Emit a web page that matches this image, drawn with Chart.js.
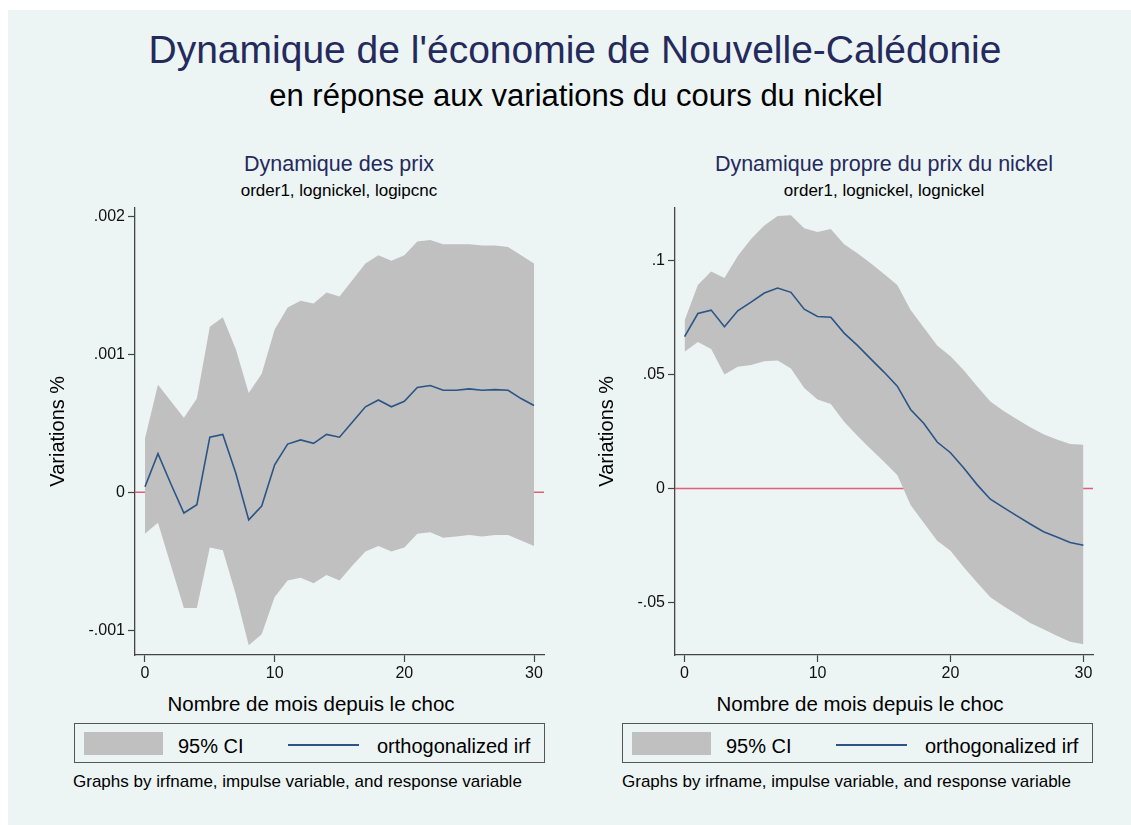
<!DOCTYPE html>
<html>
<head>
<meta charset="utf-8">
<script src="https://cdn.jsdelivr.net/npm/chart.js@4.4.1/dist/chart.umd.min.js"></script>
<style>
  body { margin: 0; background: #fff; width: 1131px; height: 825px; overflow: hidden; font-family: 'Liberation Sans', Arial, sans-serif; }
  #panel { position: absolute; left: 8px; top: 10px; width: 1123px; height: 815px; background: #edf4f4; }
  .t { position: absolute; white-space: nowrap; line-height: 1; }
  .c { transform: translateX(-50%); }
  canvas { position: absolute; }
  .lgd { position: absolute; top: 723px; width: 469px; height: 38px; border: 1.5px solid #555; }
  .sw { position: absolute; left: 9px; top: 8px; width: 79px; height: 23px; background: #c0c0c0; }
  .ln { position: absolute; left: 213px; top: 20px; width: 71px; height: 2px; background: #2a5586; }
</style>
</head>
<body>
<div id="panel"></div>

<div class="t c" style="left:575px; top:30px; font-size:39px; color:#242a5c;">Dynamique de l'économie de Nouvelle-Calédonie</div>
<div class="t c" style="left:576px; top:80px; font-size:31px; color:#000;">en réponse aux variations du cours du nickel</div>

<div class="t c" style="left:339px; top:154px; font-size:21.5px; color:#242a5c;">Dynamique des prix</div>
<div class="t c" style="left:339px; top:182px; font-size:17px; color:#000;">order1, lognickel, logipcnc</div>
<div class="t c" style="left:884px; top:154px; font-size:21.5px; color:#242a5c;">Dynamique propre du prix du nickel</div>
<div class="t c" style="left:884px; top:182px; font-size:17px; color:#000;">order1, lognickel, lognickel</div>

<canvas id="prix" width="540" height="490" style="left:20px; top:195px;"></canvas>
<canvas id="nickel" width="550" height="490" style="left:560px; top:195px;"></canvas>

<div class="t c" style="left:311px; top:694px; font-size:20.5px; color:#000;">Nombre de mois depuis le choc</div>
<div class="t c" style="left:860px; top:694px; font-size:20.5px; color:#000;">Nombre de mois depuis le choc</div>

<div class="lgd" style="left:74px;">
  <div class="sw"></div>
  <div class="t" style="left:103px; top:12px; font-size:20px;">95% CI</div>
  <div class="ln"></div>
  <div class="t" style="left:302px; top:12px; font-size:20px;">orthogonalized irf</div>
</div>
<div class="lgd" style="left:622px;">
  <div class="sw"></div>
  <div class="t" style="left:103px; top:12px; font-size:20px;">95% CI</div>
  <div class="ln"></div>
  <div class="t" style="left:302px; top:12px; font-size:20px;">orthogonalized irf</div>
</div>

<div class="t" style="left:73px; top:773px; font-size:17px; color:#000;">Graphs by irfname, impulse variable, and response variable</div>
<div class="t" style="left:622px; top:773px; font-size:17px; color:#000;">Graphs by irfname, impulse variable, and response variable</div>

<script>
// mois depuis le choc
const MONTHS = [0,1,2,3,4,5,6,7,8,9,10,11,12,13,14,15,16,17,18,19,20,21,22,23,24,25,26,27,28,29,30];
const X_TICKS = [0, 10, 20, 30];

// Dynamique des prix (order1, lognickel, logipcnc)
const PRIX_IRF = [0.00004, 0.00028, 0.00006, -0.00015, -0.00009, 0.00040, 0.00042, 0.00014, -0.00020, -0.00010,
  0.00020, 0.00035, 0.00038, 0.000355, 0.00042, 0.00040, 0.00051, 0.00062, 0.00067, 0.00062,
  0.00066, 0.00076, 0.000775, 0.00074, 0.00074, 0.00075, 0.00074, 0.000745, 0.00074, 0.00068, 0.00063];
const PRIX_UPPER = [0.00039, 0.00078, 0.00066, 0.00054, 0.00068, 0.00120, 0.00127, 0.00104, 0.00072, 0.00086,
  0.00118, 0.00134, 0.00139, 0.00137, 0.00145, 0.00142, 0.00154, 0.00166, 0.00172, 0.00168,
  0.00172, 0.00182, 0.00183, 0.00180, 0.00180, 0.00180, 0.00179, 0.00179, 0.00178, 0.00172, 0.00166];
const PRIX_LOWER = [-0.00030, -0.00022, -0.00053, -0.00084, -0.00084, -0.00040, -0.00042, -0.00074, -0.00111, -0.00103,
  -0.00076, -0.00064, -0.00062, -0.00066, -0.00060, -0.00064, -0.00053, -0.00043, -0.00039, -0.00043,
  -0.00040, -0.00030, -0.00029, -0.00033, -0.00032, -0.00031, -0.00032, -0.00031, -0.00031, -0.00035, -0.00039];
const PRIX_TICKS = [-0.001, 0, 0.001, 0.002];
const PRIX_TICK_LABELS = ['-.001', '0', '.001', '.002'];

// Dynamique propre du prix du nickel (order1, lognickel, lognickel)
const NICKEL_IRF = [0.0667, 0.0768, 0.0783, 0.0710, 0.0780, 0.0818, 0.0858, 0.0880, 0.0861, 0.0787,
  0.0755, 0.0752, 0.0682, 0.0628, 0.0569, 0.0511, 0.0449, 0.0347, 0.0285, 0.0204,
  0.0157, 0.0090, 0.0017, -0.0047, -0.0084, -0.0120, -0.0156, -0.0190, -0.0213, -0.0237, -0.0249];
const NICKEL_UPPER = [0.0737, 0.0893, 0.0952, 0.0924, 0.1020, 0.1095, 0.1154, 0.1196, 0.1199, 0.1142,
  0.1126, 0.1139, 0.1072, 0.1033, 0.0989, 0.0942, 0.0893, 0.0783, 0.0706, 0.0628,
  0.0581, 0.0519, 0.0449, 0.0382, 0.0340, 0.0304, 0.0269, 0.0238, 0.0215, 0.0195, 0.0192];
const NICKEL_LOWER = [0.0600, 0.0643, 0.0612, 0.0500, 0.0534, 0.0542, 0.0558, 0.0562, 0.0527, 0.0441,
  0.0391, 0.0371, 0.0293, 0.0231, 0.0173, 0.0117, 0.0059, -0.0073, -0.0151, -0.0229,
  -0.0273, -0.0346, -0.0413, -0.0478, -0.0517, -0.0553, -0.0590, -0.0618, -0.0646, -0.0673, -0.0684];
const NICKEL_TICKS = [-0.05, 0, 0.05, 0.1];
const NICKEL_TICK_LABELS = ['-.05', '0', '.05', '.1'];

const FONT = "'Liberation Sans', Arial, sans-serif";
const AXIS = '#444';

function pts(ys) {
  return MONTHS.map((m, i) => ({x: m, y: ys[i]}));
}

function irfChart(id, irf, upper, lower, yTicks, yLabels, yMin, yMax, xMin, xMax, titlePad, rightPad) {
  let ctx = document.getElementById(id).getContext('2d');
  return new Chart(ctx, {
    type: 'line',
    data: {
      datasets: [
        { label: 'orthogonalized irf', data: pts(irf), borderColor: '#2a5586', borderWidth: 1.6,
          pointRadius: 0, fill: false, tension: 0 },
        { label: '95% CI', data: pts(upper), borderWidth: 0, borderColor: 'rgba(0,0,0,0)',
          backgroundColor: '#c0c0c0', pointRadius: 0, fill: '+1', tension: 0 },
        { label: 'lower', data: pts(lower), borderWidth: 0, borderColor: 'rgba(0,0,0,0)',
          pointRadius: 0, fill: false, tension: 0 },
        { label: 'zero', data: [{x: xMin, y: 0}, {x: xMax, y: 0}], borderColor: '#e0607a', borderWidth: 1.6,
          pointRadius: 0, fill: false }
      ]
    },
    options: {
      responsive: false,
      animation: false,
      layout: { padding: { top: 9, right: rightPad, left: 0, bottom: 0 } },
      plugins: { legend: { display: false }, tooltip: { enabled: false } },
      scales: {
        x: {
          type: 'linear', min: xMin, max: xMax,
          afterFit: s => { s.height = 30; },
          afterBuildTicks: s => { s.ticks = X_TICKS.map(v => ({value: v})); },
          grid: { drawOnChartArea: false, tickLength: 7, tickColor: AXIS, tickWidth: 1.2 },
          border: { color: AXIS, width: 1.3 },
          ticks: { padding: 2, color: '#111', font: { family: FONT, size: 16 }, maxRotation: 0,
                   callback: v => String(v) }
        },
        y: {
          min: yMin, max: yMax,
          afterFit: s => { s.width = 115; },
          afterBuildTicks: s => { s.ticks = yTicks.map(v => ({value: v})); },
          grid: { drawOnChartArea: false, tickLength: 7, tickColor: AXIS, tickWidth: 1.2 },
          border: { color: AXIS, width: 1.3 },
          ticks: { padding: 3, color: '#111', font: { family: FONT, size: 16 },
                   callback: (v, i) => yLabels[i] },
          title: { display: true, text: 'Variations %', color: '#000',
                   font: { family: FONT, size: 20 }, padding: { top: titlePad, bottom: 0 } }
        }
      }
    }
  });
}

var prix = irfChart('prix', PRIX_IRF, PRIX_UPPER, PRIX_LOWER, PRIX_TICKS, PRIX_TICK_LABELS,
  -0.00118, 0.002065, -0.77, 30.77, 26, 16);
var nickel = irfChart('nickel', NICKEL_IRF, NICKEL_UPPER, NICKEL_LOWER, NICKEL_TICKS, NICKEL_TICK_LABELS,
  -0.0731, 0.1233, -0.72, 30.72, 35, 17);
</script>
</body>
</html>
